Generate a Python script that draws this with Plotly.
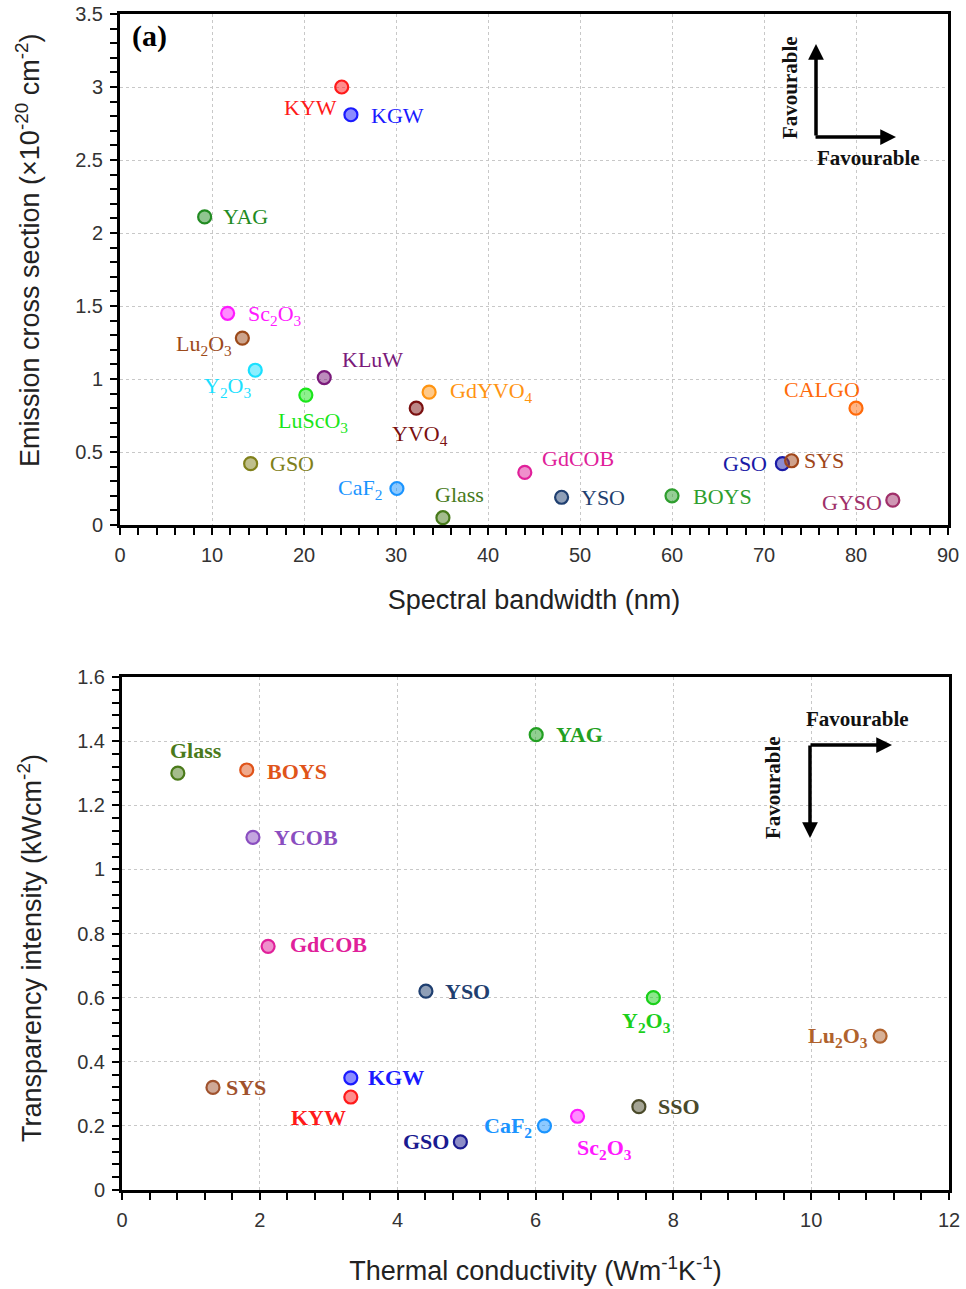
import plotly.graph_objects as go

# ---------------- Data: panel (a) top ----------------
top_names = ["KYW", "KGW", "YAG", "Sc<sub>2</sub>O<sub>3</sub>", "Lu<sub>2</sub>O<sub>3</sub>",
             "Y<sub>2</sub>O<sub>3</sub>", "KLuW", "LuScO<sub>3</sub>", "GdYVO<sub>4</sub>",
             "YVO<sub>4</sub>", "GSO", "CaF<sub>2</sub>", "Glass", "GdCOB", "YSO", "BOYS",
             "GSO", "SYS", "CALGO", "GYSO"]
top_bandwidth = [24.1, 25.1, 9.2, 11.7, 13.3, 14.7, 22.2, 20.2, 33.6, 32.2,
                 14.2, 30.1, 35.1, 44.0, 48.0, 60.0, 72.0, 73.0, 80.0, 84.0]
top_cross = [3.0, 2.81, 2.11, 1.45, 1.28, 1.06, 1.01, 0.89, 0.91, 0.80,
             0.42, 0.25, 0.05, 0.36, 0.19, 0.20, 0.42, 0.44, 0.80, 0.17]
top_colors = ["#ff1a1a", "#1a1aff", "#228b22", "#ff1aff", "#9c4a1a",
              "#1ae0ff", "#7a1a7a", "#1ae61a", "#ff9411", "#7a1010",
              "#80801a", "#1a94ff", "#477a1a", "#e0209a", "#1f3f70",
              "#2e9e2e", "#1a1aa6", "#a0461a", "#ff6a0a", "#a0306a"]
# label offsets in pixels (dx, dy; dy positive = down)
top_lab_dx = [-31, 47, 41, 47, -38, -28, 48, 7, 62, 4, 41, -37, 17, 53, 41, 50, -37, 32, -34, -41]
top_lab_dy = [20, 1, 0, 2, 7, 17, -18, 27, 0, 27, 0, 0, -23, -14, 0, 1, 0, 0, -19, 2]

# ---------------- Data: bottom panel ----------------
bot_names = ["Glass", "BOYS", "YCOB", "GdCOB", "YAG", "YSO", "SYS", "KGW", "KYW",
             "GSO", "CaF<sub>2</sub>", "Sc<sub>2</sub>O<sub>3</sub>", "SSO",
             "Y<sub>2</sub>O<sub>3</sub>", "Lu<sub>2</sub>O<sub>3</sub>"]
bot_conductivity = [0.81, 1.81, 1.9, 2.12, 6.01, 4.41, 1.32, 3.32, 3.32,
                    4.91, 6.13, 6.61, 7.5, 7.71, 11.0]
bot_intensity = [1.30, 1.31, 1.10, 0.76, 1.42, 0.62, 0.32, 0.35, 0.29,
                 0.15, 0.20, 0.23, 0.26, 0.60, 0.48]
bot_colors = ["#4a7a1a", "#e0541a", "#8a4ec0", "#e0209a", "#22a022", "#1f3f70",
              "#a0522d", "#1a1aff", "#ff1a1a", "#1a1a90", "#1a94ff", "#ff1aff",
              "#4a4a2a", "#1ad01a", "#b0622d"]
bot_lab_dx = [18, 50, 53, 60, 43, 42, 33, 45, -32, -34, -36, 27, 40, -7, -42]
bot_lab_dy = [-23, 2, 0, -2, 0, 0, 0, 0, 20, 0, 1, 33, 0, 24, 1]

x1_ticks = [0, 10, 20, 30, 40, 50, 60, 70, 80, 90]
y1_ticks = [0, 0.5, 1, 1.5, 2, 2.5, 3, 3.5]
x2_ticks = [0, 2, 4, 6, 8, 10, 12]
y2_ticks = [0, 0.2, 0.4, 0.6, 0.8, 1, 1.2, 1.4, 1.6]

x1_title = "Spectral bandwidth (nm)"
y1_title = "Emission cross section (×10<sup>-20</sup> cm<sup>-2</sup>)"
x2_title = "Thermal conductivity (Wm<sup>-1</sup>K<sup>-1</sup>)"
y2_title = "Transparency intensity (kWcm<sup>-2</sup>)"


def rgba(hexc, a):
    h = hexc.lstrip("#")
    r, g, b = int(h[0:2], 16), int(h[2:4], 16), int(h[4:6], 16)
    return f"rgba({r},{g},{b},{a})"


fig = go.Figure()

fig.add_trace(go.Scatter(
    x=top_bandwidth, y=top_cross, mode="markers", xaxis="x", yaxis="y",
    marker=dict(size=13, color=[rgba(c, 0.5) for c in top_colors],
                line=dict(color=top_colors, width=2.2)),
    hoverinfo="skip", showlegend=False))

fig.add_trace(go.Scatter(
    x=bot_conductivity, y=bot_intensity, mode="markers", xaxis="x2", yaxis="y2",
    marker=dict(size=13, color=[rgba(c, 0.5) for c in bot_colors],
                line=dict(color=bot_colors, width=2.2)),
    hoverinfo="skip", showlegend=False))

serif = "Liberation Serif, serif"
sans = "Liberation Sans Narrow, Arial Narrow, Liberation Sans, sans-serif"
annotations = []
for n, x, y, c, dx, dy in zip(top_names, top_bandwidth, top_cross, top_colors, top_lab_dx, top_lab_dy):
    annotations.append(dict(x=x, y=y, xref="x", yref="y", text=n, showarrow=False,
                            xshift=dx, yshift=-dy, xanchor="center", yanchor="middle",
                            font=dict(family=serif, size=22, color=c)))
for n, x, y, c, dx, dy in zip(bot_names, bot_conductivity, bot_intensity, bot_colors, bot_lab_dx, bot_lab_dy):
    annotations.append(dict(x=x, y=y, xref="x2", yref="y2", text="<b>" + n + "</b>", showarrow=False,
                            xshift=dx, yshift=-dy, xanchor="center", yanchor="middle",
                            font=dict(family=serif, size=22, color=c)))

# y-axis titles placed as rotated text
annotations.append(dict(x=28 / 966, y=1 - 250 / 1289, xref="paper", yref="paper", text=y1_title,
                        showarrow=False, textangle=-90, xanchor="center", yanchor="middle",
                        font=dict(family=sans, size=27, color="#222")))
annotations.append(dict(x=30 / 966, y=1 - 948 / 1289, xref="paper", yref="paper", text=y2_title,
                        showarrow=False, textangle=-90, xanchor="center", yanchor="middle",
                        font=dict(family=sans, size=27, color="#222")))

# panel label
annotations.append(dict(x=0.012, y=0.995, xref="x domain", yref="y domain", text="<b>(a)</b>",
                        showarrow=False, xanchor="left", yanchor="top",
                        font=dict(family=serif, size=30, color="black")))

# "Favourable" arrows, top panel (domain-fraction positions)
ax_w, ay_h = 828.0, 511.0
corner_top = ((816 - 120) / ax_w, (525 - 137) / ay_h)
annotations.append(dict(x=corner_top[0], y=(525 - 44) / ay_h, xref="x domain", yref="y domain",
                        ax=0, ay=93, showarrow=True, arrowhead=2, arrowsize=0.9, arrowwidth=3.5,
                        arrowcolor="black", standoff=0, startstandoff=0, text=""))
annotations.append(dict(x=(896 - 120) / ax_w, y=corner_top[1], xref="x domain", yref="y domain",
                        ax=-82, ay=0, showarrow=True, arrowhead=2, arrowsize=0.9, arrowwidth=3.5,
                        arrowcolor="black", standoff=0, startstandoff=0, text=""))
annotations.append(dict(x=(868 - 120) / ax_w, y=(525 - 158) / ay_h, xref="x domain", yref="y domain",
                        text="<b>Favourable</b>", showarrow=False, xanchor="center", yanchor="middle",
                        font=dict(family=serif, size=21, color="#111")))
annotations.append(dict(x=(790 - 120) / ax_w, y=(525 - 88) / ay_h, xref="x domain", yref="y domain",
                        text="<b>Favourable</b>", showarrow=False, textangle=-90,
                        xanchor="center", yanchor="middle",
                        font=dict(family=serif, size=21, color="#111")))

# "Favourable" arrows, bottom panel
bx_w, by_h = 827.0, 513.0
annotations.append(dict(x=(892 - 122) / bx_w, y=(1190 - 745) / by_h, xref="x2 domain", yref="y2 domain",
                        ax=-83, ay=0, showarrow=True, arrowhead=2, arrowsize=0.9, arrowwidth=3.5,
                        arrowcolor="black", standoff=0, startstandoff=0, text=""))
annotations.append(dict(x=(810 - 122) / bx_w, y=(1190 - 838) / by_h, xref="x2 domain", yref="y2 domain",
                        ax=0, ay=-94, showarrow=True, arrowhead=2, arrowsize=0.9, arrowwidth=3.5,
                        arrowcolor="black", standoff=0, startstandoff=0, text=""))
annotations.append(dict(x=(858 - 122) / bx_w, y=(1190 - 719) / by_h, xref="x2 domain", yref="y2 domain",
                        text="<b>Favourable</b>", showarrow=False, xanchor="center", yanchor="middle",
                        font=dict(family=serif, size=21, color="#111")))
annotations.append(dict(x=(773 - 122) / bx_w, y=(1190 - 787) / by_h, xref="x2 domain", yref="y2 domain",
                        text="<b>Favourable</b>", showarrow=False, textangle=-90,
                        xanchor="center", yanchor="middle",
                        font=dict(family=serif, size=21, color="#111")))

axis_common = dict(showline=True, linecolor="black", linewidth=3, mirror=True,
                   ticks="outside", ticklen=7, tickwidth=2, tickcolor="black",
                   showgrid=True, gridcolor="#c8c8c8", gridwidth=1, griddash="3px,3px",
                   zeroline=False, automargin=False, ticklabelstandoff=3,
                   tickfont=dict(family=sans, size=20, color="#333"))

fig.update_layout(
    width=966, height=1289, margin=dict(l=0, r=0, t=0, b=0),
    paper_bgcolor="white", plot_bgcolor="white",
    xaxis=dict(domain=[120 / 966, 948 / 966], anchor="y", range=[0, 90],
               tickvals=x1_ticks, minor=dict(dtick=2, ticklen=7, tickwidth=2, tickcolor="black", showgrid=False),
               title=dict(text=x1_title, standoff=26,
                          font=dict(family=sans, size=27, color="#222")),
               **axis_common),
    yaxis=dict(domain=[1 - 525 / 1289, 1 - 14 / 1289], anchor="x", range=[0, 3.5],
               tickvals=y1_ticks, minor=dict(dtick=0.1, ticklen=7, tickwidth=2, tickcolor="black", showgrid=False),
               **axis_common),
    xaxis2=dict(domain=[122 / 966, 949 / 966], anchor="y2", range=[0, 12],
                tickvals=x2_ticks, minor=dict(dtick=0.4, ticklen=7, tickwidth=2, tickcolor="black", showgrid=False),
                title=dict(text=x2_title, standoff=32,
                           font=dict(family=sans, size=27, color="#222")),
                **axis_common),
    yaxis2=dict(domain=[1 - 1190 / 1289, 1 - 677 / 1289], anchor="x2", range=[0, 1.6],
                tickvals=y2_ticks, minor=dict(dtick=0.04, ticklen=7, tickwidth=2, tickcolor="black", showgrid=False),
                **axis_common),
    annotations=annotations,
)

fig.write_html("out.html")
